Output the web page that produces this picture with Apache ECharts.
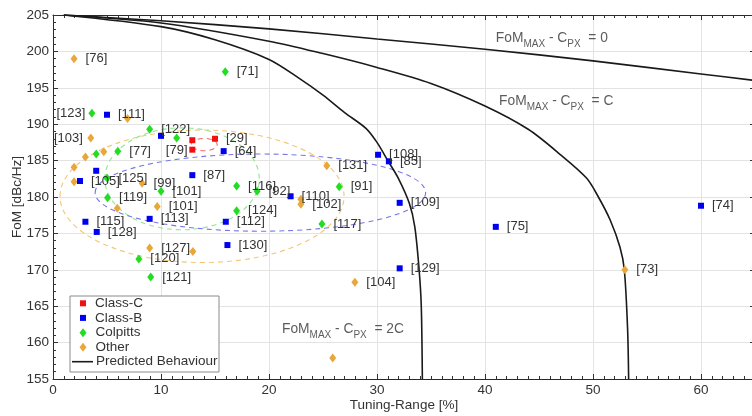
<!DOCTYPE html>
<html>
<head>
<meta charset="utf-8">
<script src="https://cdn.jsdelivr.net/npm/echarts@6/dist/echarts.min.js"></script>
<style>
  html, body { margin: 0; padding: 0; background: #ffffff; }
  #chart { width: 752px; height: 416px; }
</style>
</head>
<body>
<div id="chart"></div>
<script>
// ---- Oscillator survey: FoM versus tuning range ----

// Class-C oscillators
const classCX = [12.9, 15.0, 12.9];
const classCY = [187.8, 188.0, 186.5];
const classCLabels = ['', '[29]', ''];

// Class-B oscillators
const classBX = [5.0, 10.0, 15.8, 2.5, 4.0, 12.9, 3.0, 4.05, 8.95, 16.0, 16.15, 22.0, 30.1, 31.1, 32.1, 32.1, 41.0, 60.0];
const classBY = [191.3, 188.4, 186.3, 182.2, 183.6, 183.0, 176.6, 175.2, 177.0, 176.6, 173.4, 180.1, 185.8, 184.9, 179.2, 170.2, 175.9, 178.8];
const classBLabels = ['[111]', '', '[64]', '[105]', '', '[87]', '[115]', '[128]', '[113]', '[112]', '[130]', '[110]', '[108]', '[85]', '[109]', '[129]', '[75]', '[74]'];

// Colpitts oscillators
const colpittsX = [15.95, 3.6, 8.95, 11.45, 4.0, 6.0, 5.0, 5.05, 10.0, 17.0, 18.9, 17.0, 26.5, 24.9, 7.95, 9.05];
const colpittsY = [197.2, 191.5, 189.3, 188.1, 185.9, 186.3, 182.6, 179.9, 180.8, 181.5, 180.8, 178.1, 181.4, 176.3, 171.5, 169.0];
const colpittsLabels = ['[71]', '[123]', '[122]', '[79]', '', '[77]', '[125]', '[119]', '[101]', '[116]', '[92]', '[124]', '[91]', '[117]', '[120]', '[121]'];

// Other topologies
const otherX = [1.95, 6.9, 3.5, 3.0, 4.7, 1.95, 1.95, 8.25, 5.95, 9.65, 8.95, 12.95, 25.35, 22.95, 22.95, 27.95, 25.9, 52.95];
const otherY = [199.0, 190.8, 188.1, 185.5, 186.2, 184.1, 182.1, 181.9, 178.45, 178.7, 173.0, 172.5, 184.3, 179.7, 179.0, 168.3, 157.9, 170.0];
const otherLabels = ['[76]', '', '[103]', '', '', '', '', '[99]', '', '[101]', '[127]', '', '[131]', '', '[102]', '[104]', '', '[73]'];

// Predicted behaviour, FoM_MAX - C_PX = 0
const pred0X = [1, 10, 20, 30, 40, 50, 60, 65];
const pred0Y = [205, 204.2, 203.1, 201.7, 200.3, 198.7, 196.9, 196.0];
// Predicted behaviour, FoM_MAX - C_PX = C
const predCX = [1, 10, 20, 25, 30, 35, 40, 44, 47, 49.4, 50.5, 51.6, 52.5, 52.9, 53.2, 53.3];
const predCY = [205, 203.9, 201.4, 199.7, 197.8, 195.6, 192.5, 189.3, 185.8, 182.6, 180.0, 176.8, 173.1, 170.0, 162.0, 155.0];
// Predicted behaviour, FoM_MAX - C_PX = 2C
const pred2CX = [1, 10, 15, 20, 22.8, 25, 27, 29, 30, 31, 32, 33, 33.5, 33.9, 34.1, 34.2];
const pred2CY = [205, 203.4, 201.6, 198.9, 196.3, 194.0, 191.6, 189.4, 187.5, 185.0, 182.5, 179.1, 175.9, 170.0, 165.0, 155.0];

// Dashed grouping ellipses: centre, half-widths (axis units)
const ellipseCx = [13.8, 11.95, 19.2, 14.0];
const ellipseCy = [180.1, 182.5, 180.6, 187.2];
const ellipseRx = [13.15, 7.15, 15.3, 1.2];
const ellipseRy = [9.1, 7.0, 5.3, 0.85];
const ellipseColors = ['#f3c676', '#92e692', '#7777e8', '#ee6a6a'];

// Curve annotations
const annoX = [41.0, 41.3, 21.2];
const annoY = [201.6, 192.9, 161.5];
const annoRhs = ['0', 'C', '2C'];

// Axis ticks
const xTicks = { min: 0, max: 65, step: 10 };
const yTicks = { min: 155, max: 205, step: 5 };

// ---- Styling ----
const FONT = '"Liberation Sans", Arial, Helvetica, sans-serif';
const TEXT = '#333333';
const AXIS = '#333333';

// Label placement tweaks (default: to the right of the marker)
const labelNudge = {
  '[111]': { offset: [-6, -8] },
  '[122]': { offset: [-6, -11] },
  '[123]': { position: 'left', distance: 3 },
  '[103]': { position: 'left', distance: 4.5, offset: [0, -1] },
  '[79]':  { position: 'bottom', distance: 1, offset: [-3, 0] },
  '[77]':  { offset: [-6, -1] },
  '[105]': { offset: [-4, 0] },
  '[116]': { offset: [-7, -14] },
  '[92]':  { offset: [-4, 1] },
  '[110]': { offset: [0, -8] },
  '[102]': { offset: [-5, 5] },
  '[124]': { offset: [-6, -5] },
  '[115]': { offset: [-5, -3] },
  '[127]': { offset: [-3, -6] },
  '[108]': { offset: [-5, -13] },
  '[119]': { offset: [0, -1] }
};

function points(xs, ys, labels) {
  return xs.map(function (x, i) {
    const item = { value: [x, ys[i]], name: labels[i] };
    const nudge = labelNudge[labels[i]];
    if (nudge) item.label = Object.assign({}, nudge);
    return item;
  });
}

function linePoints(xs, ys) {
  return xs.map(function (x, i) { return [x, ys[i]]; });
}

const pointLabel = {
  show: true,
  position: 'right',
  distance: 8,
  formatter: function (p) { return p.name; },
  fontFamily: FONT,
  fontSize: 13,
  color: TEXT
};

function scatterSeries(name, xs, ys, labels, symbol, size, color) {
  return {
    name: name,
    type: 'scatter',
    symbol: symbol,
    symbolSize: size,
    itemStyle: { color: color, opacity: 1 },
    label: pointLabel,
    labelLayout: { hideOverlap: false },
    emphasis: { disabled: true },
    z: 5,
    data: points(xs, ys, labels)
  };
}

function predSeries(xs, ys) {
  return {
    name: 'Predicted Behaviour',
    type: 'line',
    showSymbol: false,
    symbol: 'none',
    smooth: 0.3,
    lineStyle: { color: '#1a1a1a', width: 1.6 },
    itemStyle: { color: '#1a1a1a' },
    emphasis: { disabled: true },
    z: 4,
    data: linePoints(xs, ys)
  };
}

const ellipseData = ellipseCx.map(function (cx, i) {
  return [cx, ellipseCy[i], ellipseRx[i], ellipseRy[i]];
});

const annoData = annoX.map(function (x, i) {
  return { value: [x, annoY[i]], name: annoRhs[i] };
});

function valueAxis(t, pos, showLabels, minorSplit) {
  return {
    type: 'value',
    position: pos,
    min: t.min,
    max: t.max,
    interval: t.step,
    axisLine: { show: true, onZero: false, lineStyle: { color: '#2a2a2a', width: 1 } },
    axisTick: { show: true, inside: true, length: 5, lineStyle: { color: AXIS, width: 1 } },
    minorTick: { show: true, splitNumber: minorSplit, length: 3, lineStyle: { color: AXIS, width: 1 } },
    splitLine: { show: showLabels, lineStyle: { color: '#e3e3e3', width: 1 } },
    minorSplitLine: { show: false },
    axisLabel: {
      show: showLabels,
      fontFamily: FONT,
      fontSize: 13.5,
      color: TEXT,
      margin: 4,
      showMaxLabel: pos === 'left',
      showMinLabel: true
    }
  };
}

const xMain = valueAxis(xTicks, 'bottom', true, 10);
xMain.name = 'Tuning-Range [%]';
xMain.nameLocation = 'middle';
xMain.nameGap = 19;
xMain.nameMoveOverlap = false;
xMain.nameTextStyle = { fontFamily: FONT, fontSize: 13.5, color: TEXT };

const yMain = valueAxis(yTicks, 'left', true, 5);
yMain.name = 'FoM [dBc/Hz]';
yMain.nameLocation = 'middle';
yMain.nameGap = 29;
yMain.nameMoveOverlap = false;
yMain.nameTextStyle = { fontFamily: FONT, fontSize: 13.5, color: TEXT };

// Legend blocks: one row every 14.6 px inside a framed box
const legendText = { fontFamily: FONT, fontSize: 13.5, color: TEXT, lineHeight: 14.6 };
function legendBlock(names, left, top, w, h, icon, textPad) {
  return {
    orient: 'vertical',
    left: left,
    top: top,
    padding: 0,
    itemGap: 0,
    itemWidth: w,
    itemHeight: h,
    z: 30,
    selectedMode: false,
    textStyle: Object.assign({ padding: [0, 0, 0, textPad] }, legendText),
    data: names.map(function (n) { return { name: n, icon: icon }; })
  };
}

const option = {
  animation: false,
  backgroundColor: '#ffffff',
  textStyle: { fontFamily: FONT },
  grid: { left: 53, right: -3, top: 15, bottom: 37, containLabel: false, outerBoundsMode: 'none' },
  xAxis: [xMain, valueAxis(xTicks, 'top', false, 10)],
  yAxis: [yMain, valueAxis(yTicks, 'right', false, 5)],
  graphic: [{
    type: 'rect',
    left: 69.5,
    top: 295.5,
    shape: { width: 149, height: 76 },
    style: { fill: '#ffffff', stroke: '#8a8a8a', lineWidth: 1 },
    z: 20
  }],
  legend: [
    legendBlock(['Class-C', 'Class-B'], 80, 296, 6, 6, 'rect', 4),
    legendBlock(['Colpitts', 'Other'], 79.5, 325.4, 7, 9, 'diamond', 4),
    legendBlock(['Predicted Behaviour'], 72, 354.4, 21, 1.6, 'rect', -2)
  ],
  series: [
    {
      name: 'groups',
      type: 'custom',
      coordinateSystem: 'cartesian2d',
      silent: true,
      z: 1,
      data: ellipseData,
      renderItem: function (params, api) {
        const c = api.coord([api.value(0), api.value(1)]);
        const s = api.size([api.value(2), api.value(3)]);
        return {
          type: 'ellipse',
          shape: { cx: c[0], cy: c[1], rx: s[0], ry: s[1] },
          style: { fill: 'none', stroke: ellipseColors[params.dataIndex], lineWidth: 1.1, lineDash: [5, 4] }
        };
      }
    },
    predSeries(pred0X, pred0Y),
    predSeries(predCX, predCY),
    predSeries(pred2CX, pred2CY),
    scatterSeries('Other', otherX, otherY, otherLabels, 'diamond', [7, 9], '#e9a73a'),
    scatterSeries('Colpitts', colpittsX, colpittsY, colpittsLabels, 'diamond', [7, 9], '#22dd22'),
    scatterSeries('Class-B', classBX, classBY, classBLabels, 'rect', 6, '#0000f0'),
    scatterSeries('Class-C', classCX, classCY, classCLabels, 'rect', 6, '#f01010'),
    {
      name: 'annotations',
      type: 'scatter',
      symbolSize: 0,
      silent: true,
      z: 6,
      data: annoData,
      label: {
        show: true,
        position: 'right',
        distance: 0,
        formatter: function (p) {
          return '{m|FoM}{s|MAX}{m| - C}{s|PX}{m|  = ' + p.name + '}';
        },
        rich: {
          m: { fontFamily: FONT, fontSize: 13.8, color: TEXT, lineHeight: 18, verticalAlign: 'top' },
          s: { fontFamily: FONT, fontSize: 10, color: TEXT, lineHeight: 18, verticalAlign: 'bottom' }
        }
      }
    }
  ]
};

const chart = echarts.init(document.getElementById('chart'), null, { renderer: 'canvas' });
chart.setOption(option);
</script>
</body>
</html>
